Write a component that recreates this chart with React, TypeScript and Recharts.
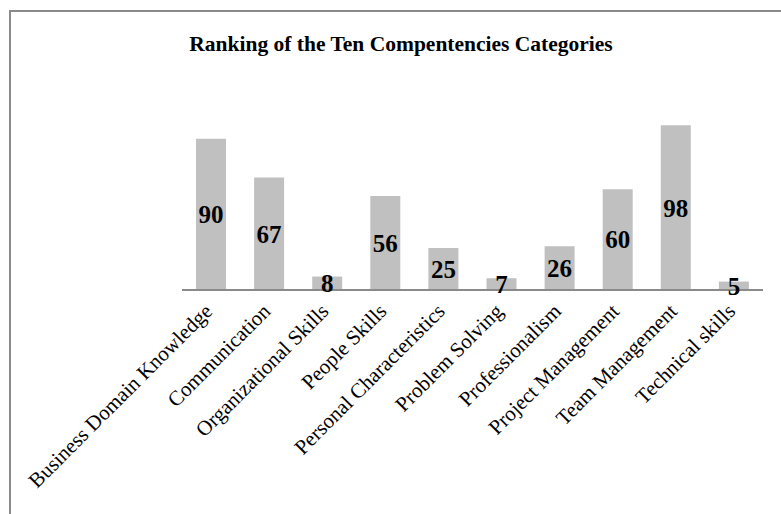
import { BarChart, Bar, XAxis, YAxis, LabelList } from 'recharts';

const categories = [
  'Business Domain Knowledge',
  'Communication',
  'Organizational Skills',
  'People Skills',
  'Personal Characteristics',
  'Problem Solving',
  'Professionalism',
  'Project Management',
  'Team Management',
  'Technical skills',
];

const counts = [90, 67, 8, 56, 25, 7, 26, 60, 98, 5];

const data = categories.map((name, i) => ({ name, value: counts[i] }));

const serif = '"Liberation Serif", "Times New Roman", serif';

// rotated category label, nudged up-left to sit like the original
const CategoryTick = (props: any) => {
  const { x, y, payload } = props;
  return (
    <g transform={`translate(${x - 8},${y - 6}) rotate(-45)`}>
      <text textAnchor="end" dy="0.71em" fill="#000" fontFamily={serif} fontSize={21}>
        {payload.value}
      </text>
    </g>
  );
};

const App = () => {
  return (
    <div style={{ position: 'absolute', left: 0, top: 0, width: 781, height: 514, background: '#fff' }}>
      <div
        style={{
          position: 'absolute',
          left: 9,
          top: 10,
          right: 0,
          bottom: 0,
          borderLeft: '2px solid #8a8a8a',
          borderTop: '2px solid #8a8a8a',
        }}
      />
      <div
        style={{
          position: 'absolute',
          left: 0,
          width: 802,
          top: 32,
          textAlign: 'center',
          fontFamily: serif,
          fontWeight: 'bold',
          fontSize: 21.5,
          color: '#000',
        }}
      >
        Ranking of the Ten Compentencies Categories
      </div>
      <div style={{ position: 'absolute', left: 0, top: 0 }}>
        <BarChart
          width={781}
          height={514}
          data={data}
          margin={{ top: 122, right: 18, bottom: 24, left: 182 }}
        >
          <YAxis hide domain={[0, 100]} />
          <XAxis
            dataKey="name"
            interval={0}
            height={200}
            tickLine={false}
            tickSize={6}
            tickMargin={12}
            axisLine={{ stroke: '#8a8a8a', strokeWidth: 2 }}
            tick={<CategoryTick />}
          />
          <Bar dataKey="value" fill="#c0c0c0" barSize={30} isAnimationActive={false}>
            <LabelList
              dataKey="value"
              position="center"
              fill="#000"
              fontFamily={serif}
              fontWeight="bold"
              fontSize={25}
            />
          </Bar>
        </BarChart>
      </div>
    </div>
  );
};

export default App;
